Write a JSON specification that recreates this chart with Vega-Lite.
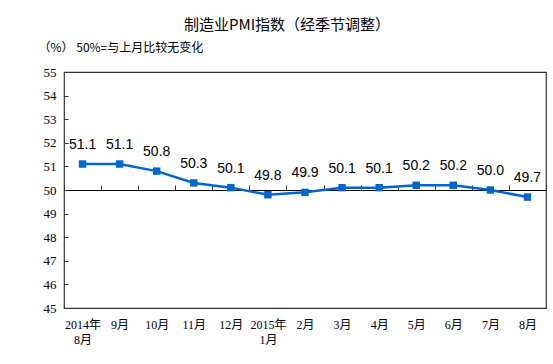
{
  "$schema": "https://vega.github.io/schema/vega-lite/v6.json",
  "width": 482,
  "height": 236,
  "autosize": {"type": "none"},
  "padding": {"left": 64, "top": 72, "right": 7, "bottom": 56},
  "background": "white",
  "config": {
    "view": {"stroke": "#333333", "strokeWidth": 1.2},
    "axis": {"grid": false}
  },
  "title": {
    "text": "制造业PMI指数（经季节调整）",
    "font": "Noto Sans CJK SC",
    "fontSize": 15,
    "fontWeight": "normal",
    "color": "#000000",
    "anchor": "middle",
    "frame": "group",
    "dx": -18,
    "offset": 8
  },
  "data": {
    "values": [
      {"month": "2014年|8月", "pmi": 51.1},
      {"month": "9月", "pmi": 51.1},
      {"month": "10月", "pmi": 50.8},
      {"month": "11月", "pmi": 50.3},
      {"month": "12月", "pmi": 50.1},
      {"month": "2015年|1月", "pmi": 49.8},
      {"month": "2月", "pmi": 49.9},
      {"month": "3月", "pmi": 50.1},
      {"month": "4月", "pmi": 50.1},
      {"month": "5月", "pmi": 50.2},
      {"month": "6月", "pmi": 50.2},
      {"month": "7月", "pmi": 50.0},
      {"month": "8月", "pmi": 49.7}
    ]
  },
  "encoding": {
    "x": {
      "field": "month",
      "type": "nominal",
      "sort": null,
      "scale": {"paddingInner": 0, "paddingOuter": 0},
      "axis": {
        "title": null,
        "labelAngle": 0,
        "labelExpr": "split(datum.label, '|')",
        "labelFont": "Liberation Serif, Noto Sans CJK SC",
        "labelFontSize": 12,
        "labelColor": "#000000",
        "labelLineHeight": 15,
        "labelBaseline": "top",
        "offset": -118,
        "domain": true,
        "domainColor": "#000000",
        "domainWidth": 1,
        "ticks": true,
        "tickBand": "extent",
        "tickSize": -5,
        "tickColor": "#333333",
        "labelPadding": 134
      }
    },
    "y": {
      "field": "pmi",
      "type": "quantitative",
      "scale": {"domain": [45, 55], "nice": false, "zero": false},
      "axis": {
        "values": [45, 46, 47, 48, 49, 50, 51, 52, 53, 54, 55],
        "title": "（%）   50%=与上月比较无变化",
        "titleAngle": 0,
        "titleAlign": "left",
        "titleBaseline": "middle",
        "titleX": -26,
        "titleY": -25,
        "titleFont": "Noto Sans CJK SC",
        "titleFontSize": 12,
        "titleFontWeight": "normal",
        "titleColor": "#000000",
        "labelFont": "Liberation Serif",
        "labelFontSize": 13,
        "labelColor": "#000000",
        "domain": false,
        "tickSize": -4,
        "tickColor": "#333333",
        "labelPadding": 12
      }
    }
  },
  "layer": [
    {
      "mark": {"type": "line", "color": "#0066CC", "strokeWidth": 2.5},
      "encoding": {}
    },
    {
      "mark": {"type": "point", "shape": "square", "filled": true, "color": "#0066CC", "size": 55, "opacity": 1},
      "encoding": {}
    },
    {
      "mark": {"type": "text", "dy": -19, "font": "Liberation Sans", "fontSize": 14, "color": "#000000", "baseline": "middle"},
      "encoding": {"text": {"field": "pmi", "type": "quantitative", "format": ".1f"}}
    }
  ]
}
